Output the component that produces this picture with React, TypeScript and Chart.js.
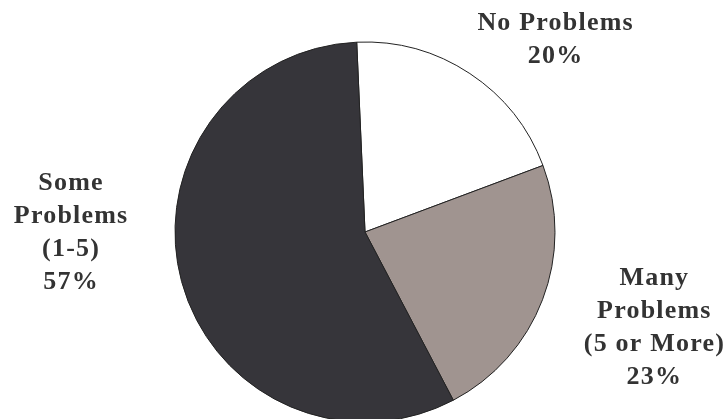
import React, { useEffect, useRef } from "react";
import { Chart, registerables } from "chart.js";

Chart.register(...registerables);

const categories: string[][] = [
  ["No Problems", "20%"],
  ["Many", "Problems", "(5 or More)", "23%"],
  ["Some", "Problems", "(1-5)", "57%"],
];
const values: number[] = [20, 23, 57];
const colors: string[] = ["#ffffff", "#a09490", "#36353a"];

// label anchor offsets relative to pie center, in units of the radius
const labelAnchors: [number, number][] = [
  [1.0, -1.01],
  [1.52, 0.505],
  [-1.55, 0.005],
];

const labelPlugin = {
  id: "sliceLabels",
  afterDraw(chart: any) {
    const meta = chart.getDatasetMeta(0);
    const ctx = chart.ctx as CanvasRenderingContext2D;
    ctx.save();
    ctx.fillStyle = "#333333";
    ctx.font = 'bold 26px "Liberation Serif", "Times New Roman", serif';
    (ctx as any).letterSpacing = "1.2px";
    ctx.textAlign = "center";
    ctx.textBaseline = "middle";
    const lineH = 33;
    meta.data.forEach((arc: any, i: number) => {
      const { x, y, outerRadius } = arc.getProps(["x", "y", "outerRadius"], true);
      const [fx, fy] = labelAnchors[i];
      const cx = x + fx * outerRadius;
      const cy = y + fy * outerRadius;
      const lines = categories[i];
      const startY = cy - ((lines.length - 1) * lineH) / 2;
      lines.forEach((ln, k) => {
        ctx.fillText(ln, cx + 0.6, startY + k * lineH);
      });
    });
    ctx.restore();
  },
};

export default function App() {
  const ref = useRef<HTMLCanvasElement | null>(null);
  useEffect(() => {
    document.body.style.margin = "0";
    const canvas = ref.current;
    if (!canvas) return;
    const chart = new Chart(canvas, {
      type: "pie",
      data: {
        labels: categories.map((c) => c.join(" ")),
        datasets: [
          {
            data: values,
            backgroundColor: colors,
            borderColor: "#222222",
            borderWidth: 1,
            radius: 190,
          } as any,
        ],
      },
      options: {
        animation: false,
        responsive: false,
        rotation: -2.5,
        layout: { padding: { left: 7, right: 0, top: 45, bottom: 0 } },
        plugins: {
          legend: { display: false },
          tooltip: { enabled: false },
        },
      },
      plugins: [labelPlugin],
    });
    return () => chart.destroy();
  }, []);
  return (
    <div style={{ width: 723, height: 419, background: "#ffffff" }}>
      <canvas ref={ref} width={723} height={419} style={{ display: "block" }} />
    </div>
  );
}
